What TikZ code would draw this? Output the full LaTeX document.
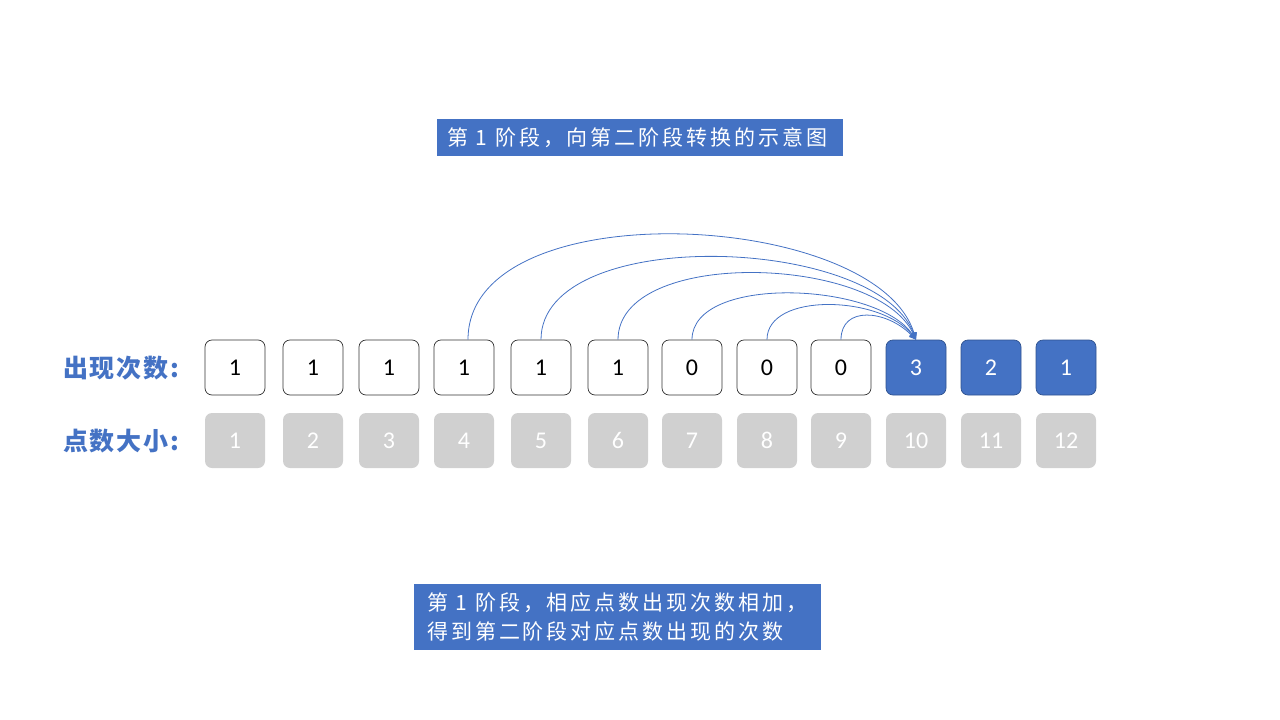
\documentclass[tikz,border=0pt]{standalone}
\usepackage{fontspec}
\setmainfont{Carlito}
\newfontfamily\cjk{Noto Sans CJK SC}
\newfontfamily\cjkwide[LetterSpace=14]{Noto Sans CJK SC}
\newfontfamily\cjklabel[LetterSpace=7]{Noto Sans CJK SC}
\usetikzlibrary{arrows.meta}
\definecolor{accent}{HTML}{4472C4}
\definecolor{accentdark}{HTML}{2F528F}
\definecolor{grayfill}{HTML}{D0D0D0}
\tikzset{
  cell/.style={rounded corners=7pt, minimum width=60pt, minimum height=55pt, inner sep=0pt, font=\fontsize{24}{24}\selectfont},
  plaincell/.style={cell, draw=black!80, line width=0.7pt, fill=white, text=black},
  bluecell/.style={cell, draw=accentdark, line width=0.7pt, fill=accent, text=white},
  graycell/.style={cell, fill=grayfill, text=white},
  rowlabel/.style={anchor=west, inner sep=0pt, text=accent, font=\cjklabel\bfseries\fontsize{25}{25}\selectfont},
  banner/.style={fill=accent, text=white, inner sep=0pt},
  arc/.style={draw=accent, line width=0.8pt, -{Triangle[width=6pt,length=7pt]}}
}
\begin{document}
\begin{tikzpicture}[x=1pt,y=-1pt]
\useasboundingbox (0,0) rectangle (1280,720);
% title
\node[banner, minimum width=406pt, minimum height=37pt] (title) at (640,137.5) {};
\node[anchor=west, text=white, inner sep=0pt, font=\cjkwide\fontsize{21}{21}\selectfont] (titletext) at (447,137.5) {第 1 阶段，向第二阶段转换的示意图};
% row labels
\node[rowlabel] (lab1) at (63,368) {出现次数:};
\node[rowlabel] (lab2) at (63,441) {点数大小:};
% top row
\node[plaincell] (a1) at (235,367.5) {1};
\node[plaincell] (a2) at (313,367.5) {1};
\node[plaincell] (a3) at (389,367.5) {1};
\node[plaincell] (a4) at (464,367.5) {1};
\node[plaincell] (a5) at (541,367.5) {1};
\node[plaincell] (a6) at (618,367.5) {1};
\node[plaincell] (a7) at (692,367.5) {0};
\node[plaincell] (a8) at (767,367.5) {0};
\node[plaincell] (a9) at (841,367.5) {0};
\node[bluecell] (a10) at (916,367.5) {3};
\node[bluecell] (a11) at (991,367.5) {2};
\node[bluecell] (a12) at (1066,367.5) {1};
% bottom row
\node[graycell] (b1) at (235,440.5) {1};
\node[graycell] (b2) at (313,440.5) {2};
\node[graycell] (b3) at (389,440.5) {3};
\node[graycell] (b4) at (464,440.5) {4};
\node[graycell] (b5) at (541,440.5) {5};
\node[graycell] (b6) at (618,440.5) {6};
\node[graycell] (b7) at (692,440.5) {7};
\node[graycell] (b8) at (767,440.5) {8};
\node[graycell] (b9) at (841,440.5) {9};
\node[graycell] (b10) at (916,440.5) {10};
\node[graycell] (b11) at (991,440.5) {11};
\node[graycell] (b12) at (1066,440.5) {12};
% arcs
\draw[arc] ([xshift=4pt]a4.north) .. controls +(0,-150) and +(-40,-130) .. (a10.north);
\draw[arc] (a5.north) .. controls +(0,-115) and +(-40,-105) .. (a10.north);
\draw[arc] (a6.north) .. controls +(0,-92) and +(-40,-85) .. (a10.north);
\draw[arc] (a7.north) .. controls +(0,-65) and +(-40,-58) .. (a10.north);
\draw[arc] (a8.north) .. controls +(0,-48) and +(-35,-44) .. (a10.north);
\draw[arc] (a9.north) .. controls +(0,-34) and +(-30,-30) .. (a10.north);
% bottom banner
\node[banner, minimum width=407pt, minimum height=66pt] (note) at (617.5,617) {};
\node[anchor=west, text=white, inner sep=0pt, align=left, font=\cjkwide\fontsize{21}{29}\selectfont] (notetext) at (427,617) {第 1 阶段，相应点数出现次数相加，\\得到第二阶段对应点数出现的次数};
\end{tikzpicture}
\end{document}
